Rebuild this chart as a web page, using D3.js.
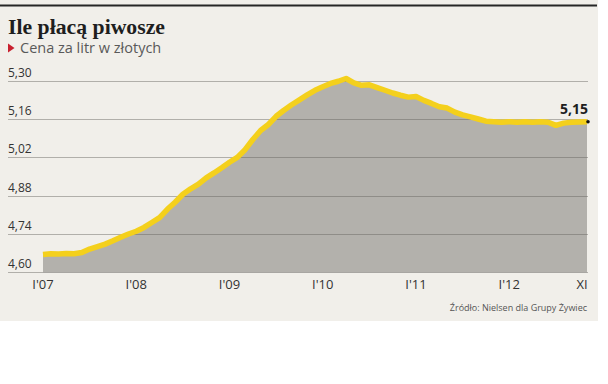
<!DOCTYPE html>
<html>
<head>
<meta charset="utf-8">
<script src="https://cdn.jsdelivr.net/npm/d3@7"></script>
<style>
    body { margin: 0; background: #ffffff; }
    svg { display: block; }
</style>
</head>
<body>
<div id="chart"></div>
<script>
// Monthly average beer price, Jan 2007 - Nov 2012 (PLN per litre)
const months = d3.range(0, 71); // 0 = I'07 ... 70 = XI'12
const prices = [
    4.665, 4.668, 4.667, 4.669, 4.668, 4.672, 4.685, 4.694, 4.703, 4.715, 4.728, 4.740,
    4.750, 4.764, 4.782, 4.800, 4.830, 4.856, 4.885, 4.905, 4.922, 4.945, 4.963, 4.982,
    5.002, 5.020, 5.048, 5.085, 5.118, 5.140, 5.170, 5.192, 5.212, 5.230, 5.248, 5.265,
    5.278, 5.290, 5.298, 5.308, 5.292, 5.283, 5.285, 5.275, 5.265, 5.255, 5.247, 5.240,
    5.242, 5.228, 5.217, 5.205, 5.200, 5.185, 5.175, 5.168, 5.160, 5.152, 5.150, 5.148,
    5.150, 5.148, 5.150, 5.148, 5.150, 5.148, 5.137, 5.145, 5.148, 5.149, 5.150
];
const yTicks = [4.60, 4.74, 4.88, 5.02, 5.16, 5.30];
const xTickIndex = [0, 12, 24, 36, 48, 60, 70];
const xTickLabels = ["I'07", "I'08", "I'09", "I'10", "I'11", "I'12", "XI"];
const lastLabel = "5,15";

const width = 608, height = 384;

const svg = d3.select("#chart")
    .append("svg")
    .attr("width", width)
    .attr("height", height);

// Beige panel + dark top rule
svg.append("rect")
    .attr("x", 0).attr("y", 0)
    .attr("width", 598).attr("height", 321)
    .style("fill", "#f1efea");

svg.append("rect")
    .attr("x", 0).attr("y", 4.5)
    .attr("width", 597).attr("height", 2)
    .style("fill", "#262626");

// Title and subtitle
svg.append("text")
    .attr("x", 8)
    .attr("y", 34)
    .attr("textLength", 157)
    .attr("lengthAdjust", "spacingAndGlyphs")
    .style("font-family", "'Liberation Serif', serif")
    .style("font-weight", "bold")
    .style("font-size", "20px")
    .style("fill", "#1e1e1e")
    .text("Ile płacą piwosze");

svg.append("path")
    .attr("d", "M8,43.5 L14.5,48 L8,52.5 Z")
    .style("fill", "#c8202f");

svg.append("text")
    .attr("x", 20)
    .attr("y", 53)
    .style("font-family", "'Open Sans', sans-serif")
    .style("font-size", "14.5px")
    .style("fill", "#595959")
    .text("Cena za litr w złotych");

// Scales
const x = d3.scaleLinear()
    .domain([0, 70])
    .range([43, 587]);

const y = d3.scaleLinear()
    .domain([4.60, 5.30])
    .range([272.3, 80.7]);

const data = months.map((m, i) => ({ m: m, v: prices[i] }));

// Grey area under the line
const area = d3.area()
    .x(d => x(d.m))
    .y0(y(4.60))
    .y1(d => y(d.v));

svg.append("path")
    .datum(data)
    .attr("d", area)
    .style("fill", "#b3b1ac");

// Gridlines drawn on top of the area
svg.append("g")
    .selectAll("line")
    .data(yTicks)
    .enter()
    .append("line")
    .attr("x1", 8)
    .attr("x2", 588)
    .attr("y1", d => Math.round(y(d)) + 0.5)
    .attr("y2", d => Math.round(y(d)) + 0.5)
    .style("stroke", "rgba(100,98,94,0.45)")
    .style("stroke-width", "1px");

// Y labels, sitting above each gridline
svg.append("g")
    .selectAll("text")
    .data(yTicks)
    .enter()
    .append("text")
    .attr("x", 8)
    .attr("y", d => y(d) - 4)
    .style("font-family", "'Open Sans', sans-serif")
    .style("font-size", "12px")
    .style("fill", "#333")
    .text(d => d3.format(".2f")(d).replace(".", ","));

// Yellow price line
const line = d3.line()
    .x(d => x(d.m))
    .y(d => y(d.v));

svg.append("path")
    .datum(data)
    .attr("d", line)
    .style("fill", "none")
    .style("stroke", "#f4d01c")
    .style("stroke-width", "5.5px")
    .style("stroke-linejoin", "round");

// End point marker and value label
const last = data[data.length - 1];
svg.append("circle")
    .attr("cx", x(last.m) + 1)
    .attr("cy", y(last.v))
    .attr("r", 1.8)
    .style("fill", "#111");

svg.append("text")
    .attr("x", 588)
    .attr("y", 114)
    .attr("text-anchor", "end")
    .style("font-family", "'Open Sans', sans-serif")
    .style("font-weight", "bold")
    .style("font-size", "14px")
    .style("fill", "#1e1e1e")
    .text(lastLabel);

// X labels
svg.append("g")
    .selectAll("text")
    .data(xTickIndex)
    .enter()
    .append("text")
    .attr("x", (d, i) => i === xTickIndex.length - 1 ? x(d) - 5 : x(d))
    .attr("y", 289)
    .attr("text-anchor", "middle")
    .style("font-family", "'Open Sans', sans-serif")
    .style("font-size", "13px")
    .style("fill", "#333")
    .text((d, i) => xTickLabels[i]);

// Source note
svg.append("text")
    .attr("x", 587)
    .attr("y", 310.5)
    .attr("text-anchor", "end")
    .style("font-family", "'Open Sans', sans-serif")
    .style("font-size", "9px")
    .style("fill", "#555")
    .text("Źródło: Nielsen dla Grupy Żywiec");
</script>
</body>
</html>
